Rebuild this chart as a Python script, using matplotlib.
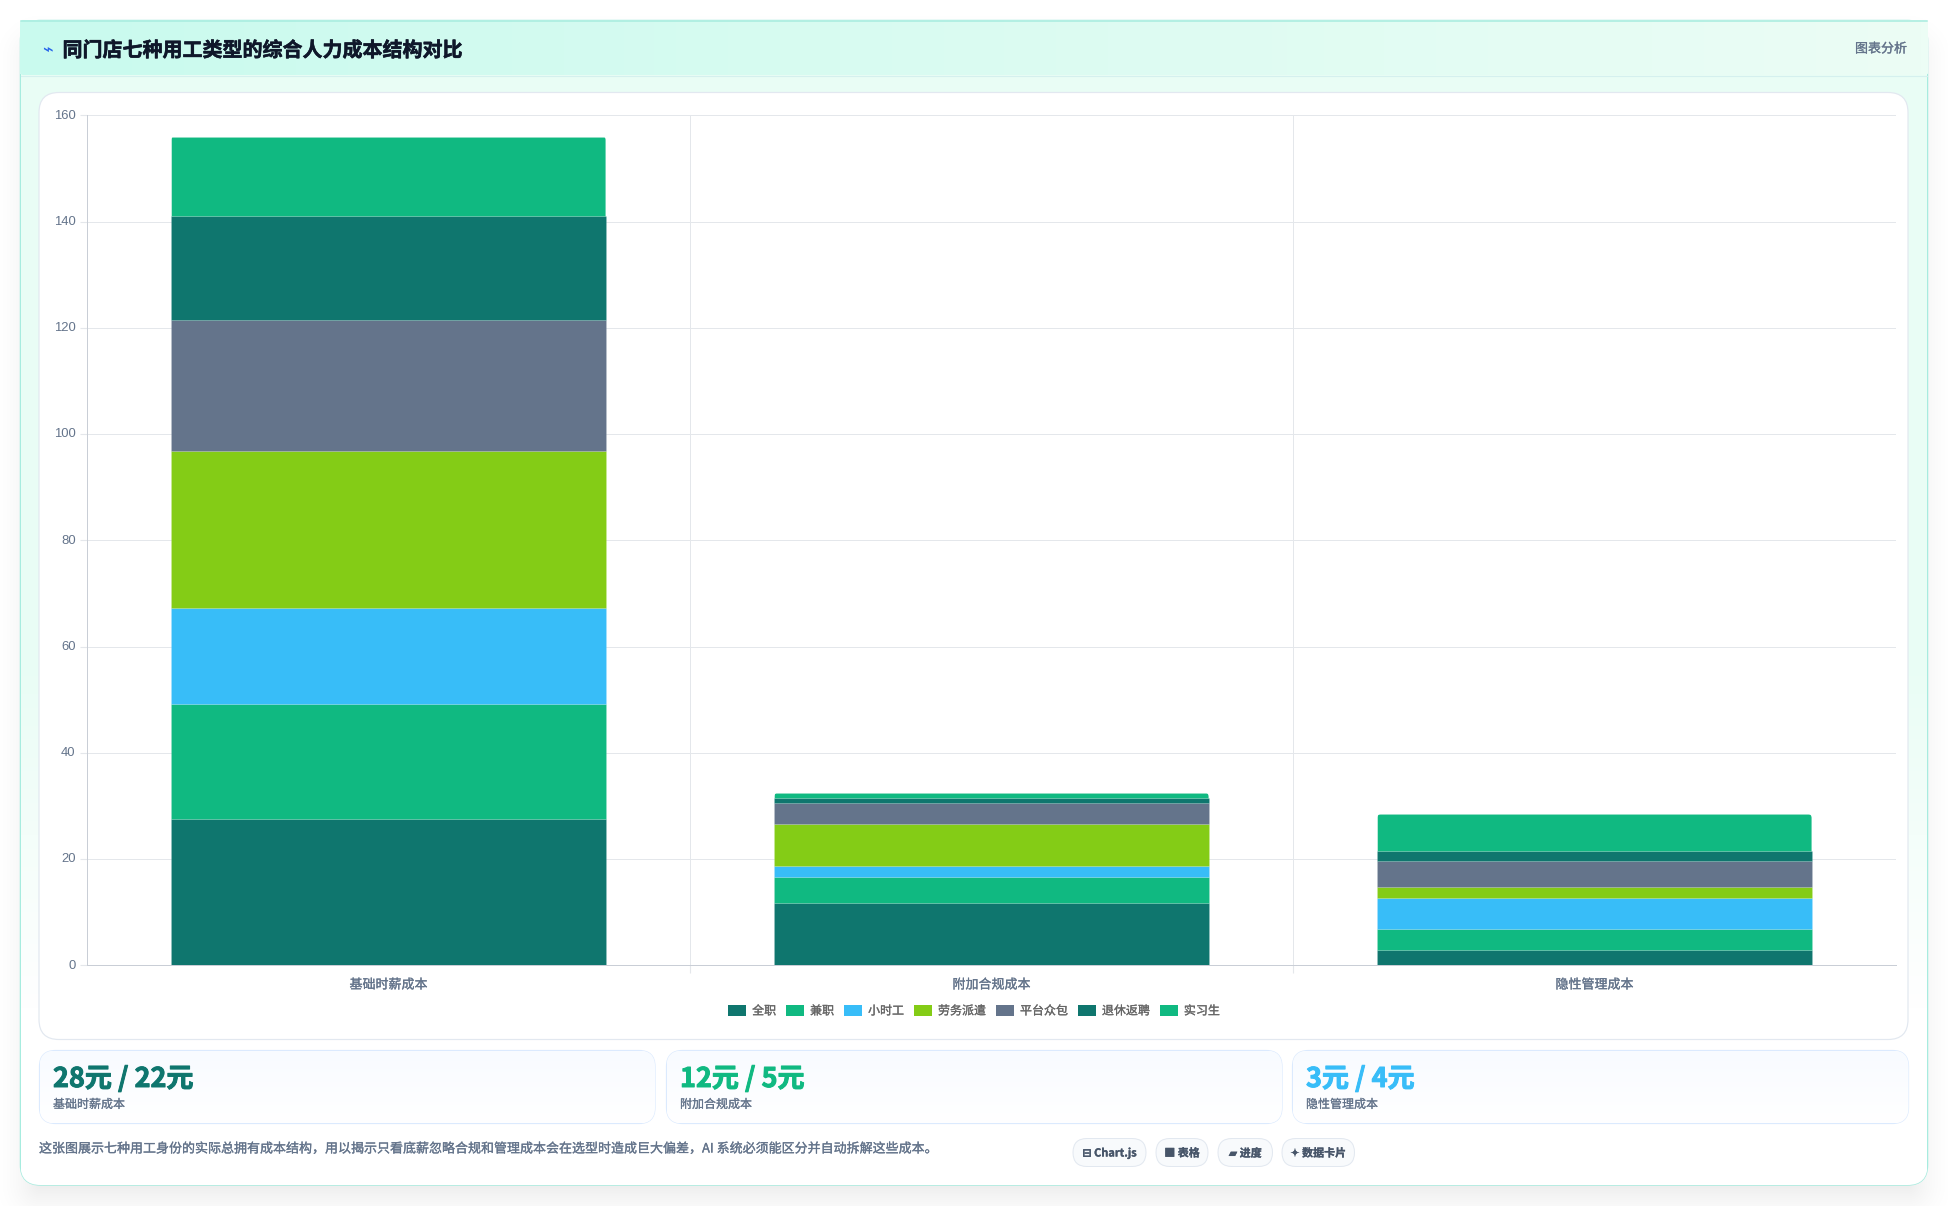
import numpy as np
import matplotlib
matplotlib.use('Agg')
import matplotlib.pyplot as plt
import matplotlib.patheffects as pe
from matplotlib.patches import FancyBboxPatch, Patch
from matplotlib.transforms import IdentityTransform, ScaledTranslation

W, H = 1948, 1206

# 三类成本，七种用工身份（元/小时）
categories = ['基础时薪成本', '附加合规成本', '隐性管理成本']
worker_types = ['全职', '兼职', '小时工', '劳务派遣', '平台众包', '退休返聘', '实习生']
fulltime = [27.6, 11.7, 2.9]
parttime = [21.6, 4.9, 4.0]
hourly = [18.0, 2.0, 5.8]
dispatch = [29.6, 8.0, 2.1]
platform = [24.6, 4.0, 4.8]
retired = [19.6, 0.8, 1.9]
intern = [15.0, 1.0, 6.9]
series = [fulltime, parttime, hourly, dispatch, platform, retired, intern]
colors = ['#0f766e', '#10b981', '#38bdf8', '#84cc16', '#64748b', '#0f766e', '#10b981']
y_ticks = [0, 20, 40, 60, 80, 100, 120, 140, 160]

stat_values = ['28元 / 22元', '12元 / 5元', '3元 / 4元']
stat_colors = ['#0f766e', '#10b981', '#38bdf8']
title = '同门店七种用工类型的综合人力成本结构对比'
note = '这张图展示七种用工身份的实际总拥有成本结构，用以揭示只看底薪忽略合规和管理成本会在选型时造成巨大偏差，AI 系统必须能区分并自动拆解这些成本。'
pills = ['⊟ Chart.js', '■ 表格', '▰ 进度', '✦ 数据卡片']

CJK = ['Noto Sans CJK SC', 'DejaVu Sans']
plt.rcParams['font.family'] = CJK


def px(v):
    # 像素转磅
    return v * 72 / 100


def thick(artist, w, color):
    # 描边加粗文字
    artist.set_path_effects([pe.withStroke(linewidth=w, foreground=color)])
    return artist


def rounded_dist(x0, y0, x1, y1, r):
    # 圆角矩形的有向距离场
    yy, xx = np.mgrid[0:H, 0:W] + 0.5
    cx, cy = (x0 + x1) / 2, (y0 + y1) / 2
    qx = np.abs(xx - cx) - (x1 - x0) / 2 + r
    qy = np.abs(yy - cy) - (y1 - y0) / 2 + r
    return np.hypot(np.maximum(qx, 0), np.maximum(qy, 0)) + np.minimum(np.maximum(qx, qy), 0) - r


def box(ax, x0, y0, x1, y1, r, fc, ec='none', lw=1, z=1):
    p = FancyBboxPatch((x0 + r, y0 + r), x1 - x0 - 2 * r, y1 - y0 - 2 * r,
                       boxstyle=f'round,pad={r},rounding_size={r}',
                       fc=fc, ec=ec, lw=lw * 0.72, zorder=z)
    ax.add_patch(p)
    return p


def hgrad(c0, c1, n=256):
    c0 = np.array(matplotlib.colors.to_rgb(c0))
    c1 = np.array(matplotlib.colors.to_rgb(c1))
    t = np.linspace(0, 1, n)[None, :, None]
    return c0 + (c1 - c0) * t


fig = plt.figure(figsize=(W / 100, H / 100), dpi=100, facecolor='white')
bg = fig.add_axes([0, 0, 1, 1])
bg.set_xlim(0, W)
bg.set_ylim(H, 0)
bg.axis('off')

# 外层卡片的阴影
d = rounded_dist(20, 38, 1928, 1205, 20)
shadow = np.clip(0.5 - d / 70, 0, 1) ** 2 * 0.12
rgba = np.zeros((H, W, 4))
rgba[..., 3] = shadow
bg.imshow(rgba, extent=(0, W, H, 0), zorder=0, aspect='auto')
bg.set_xlim(0, W)
bg.set_ylim(H, 0)

# 外层卡片，背景从薄荷绿渐变到白色
outer = box(bg, 20.5, 20.5, 1927.5, 1185, 20, 'white', '#a7ecdf', 1.5, z=1)
vg = np.linspace(0, 1, 256)[:, None, None]
top_c = np.array(matplotlib.colors.to_rgb('#e9fdf5'))
body = top_c + (np.ones(3) - top_c) * np.clip((vg - 0.55) / 0.3, 0, 1)
im = bg.imshow(body, extent=(21, 1927, 1185, 21), zorder=1.1, aspect='auto')
im.set_clip_path(outer)

# 标题栏
head = box(bg, 20, 20, 1928, 75, 3, 'white', 'none', z=1.2)
im = bg.imshow(hgrad('#c9faee', '#ecfdf5'), extent=(20, 1928, 75, 20), zorder=1.3, aspect='auto')
im.set_clip_path(head)
bg.plot([21, 1927], [20.8, 20.8], color='#a7ecdf', lw=1.1, zorder=1.4)
bg.plot([21, 1927], [75.5, 75.5], color='#d5f0ee', lw=0.8, zorder=1.4)
bg.text(47, 51, '⌁', fontsize=px(18), color='#2563eb', ha='center', va='center',
        family=['DejaVu Sans'], zorder=3)
thick(bg.text(62.5, 50, title, fontsize=px(20), fontweight='bold', color='#0f172a', va='center', zorder=3),
      0.4, '#0f172a')
thick(bg.text(1907, 49, '图表分析', fontsize=px(13), fontweight='medium', color='#64748b',
              ha='right', va='center', zorder=3), 0.2, '#64748b')

# 图表卡片
box(bg, 39, 92.5, 1908, 1039.5, 20, 'white', '#e2e8f0', 1.2, z=2)

# 三张数据卡片
cards = [(39.5, 655), (666.5, 1282), (1292.5, 1908.5)]
for (x0, x1), val, col, cat in zip(cards, stat_values, stat_colors, categories):
    c = box(bg, x0, 1050.5, x1, 1123.5, 16, 'white', '#dbeafe', 1.2, z=2)
    im = bg.imshow(hgrad('#f8fbff', '#ffffff').transpose(1, 0, 2), extent=(x0, x1, 1123, 1051),
                   zorder=2.1, aspect='auto')
    im.set_clip_path(c)
    thick(bg.text(x0 + 13.5, 1079, val, fontsize=px(27), fontweight='bold', color=col, va='center', zorder=3),
          0.7, col)
    thick(bg.text(x0 + 13.5, 1104.5, cat, fontsize=px(12), fontweight='medium', color='#64748b', va='center', zorder=3),
          0.15, '#64748b')

thick(bg.text(39, 1149, note, fontsize=px(13), fontweight='medium', color='#64748b', va='center', zorder=3),
      0.2, '#64748b')

# 底部标签
pill_x = [(1073, 1146), (1156, 1208), (1218, 1272.5), (1282, 1354.5)]
for (x0, x1), s in zip(pill_x, pills):
    box(bg, x0, 1138.5, x1, 1166.5, 14, '#f8fafc', '#e2e8f0', 1, z=2)
    thick(bg.text((x0 + x1) / 2, 1153.5, s, fontsize=px(11), fontweight='bold', color='#475569',
                  ha='center', va='center', zorder=3), 0.2, '#475569')

# 堆叠柱状图
L, R, T, B = 87.0, 1896, 115.3, 965.3
ax = fig.add_axes([L / W, 1 - B / H, (R - L) / W, (B - T) / H])
ax.patch.set_alpha(0)
x = np.arange(len(categories))
bottom = np.zeros(len(categories))
containers = []
for vals, col in zip(series, colors):
    bars = ax.bar(x, vals, width=0.72, bottom=bottom, color=col, edgecolor=(1, 1, 1, 0.12),
                  linewidth=0.5, zorder=3)
    containers.append(bars)
    bottom += np.array(vals)

ax.set_xlim(-0.5, 2.5)
ax.set_ylim(0, 160)
ax.set_yticks(y_ticks)
ax.set_xticks(x)
ax.set_xticklabels(categories, fontsize=px(13), fontweight='medium', color='#64748b')
ax.tick_params(axis='x', length=0, pad=9.5)
ax.tick_params(axis='y', length=7.5 * 0.72, width=0.8, color='#e4e7eb', pad=2.8, labelsize=px(13),
               labelcolor='#64748b')
for lab in ax.get_xticklabels():
    thick(lab, 0.2, '#64748b')
up = ScaledTranslation(0, 1.2 / 100, fig.dpi_scale_trans)
for lab in ax.get_yticklabels():
    lab.set_fontfamily('Liberation Sans')
    lab.set_transform(lab.get_transform() + up)

# 类别之间的竖向网格线
ax.set_xticks([0.5, 1.5], minor=True)
ax.tick_params(axis='x', which='minor', length=7.5 * 0.72, width=0.8, color='#e4e7eb')
ax.grid(axis='x', which='minor', color='#e4e7eb', lw=0.72, zorder=0)
ax.grid(axis='y', which='major', color='#e4e7eb', lw=0.72, zorder=0)
ax.set_axisbelow(True)
for s in ['top', 'right']:
    ax.spines[s].set_visible(False)
for s in ['left', 'bottom']:
    ax.spines[s].set_color('#c9ced6')
    ax.spines[s].set_linewidth(0.72)

# 每根柱子最上面一段的上方圆角
fig.canvas.draw()
for bar in containers[-1]:
    e = bar.get_window_extent()
    clip = FancyBboxPatch((e.x0 + 4, e.y0 - 10), e.width - 8, e.height + 6.5,
                          boxstyle='round,pad=4,rounding_size=4', transform=IdentityTransform())
    bar.set_clip_path(clip)

handles = [Patch(facecolor=c, edgecolor='none', label=n) for c, n in zip(colors, worker_types)]
leg = fig.legend(handles=handles, ncols=7, loc='center', bbox_to_anchor=(974 / W, 1 - 1011 / H),
                 frameon=False, fontsize=px(12), handlelength=1.5, handleheight=1.0,
                 handletextpad=0.5, columnspacing=0.83, labelcolor='#666666')
for t in leg.get_texts():
    thick(t, 0.2, '#666666')

fig.savefig('out.png', dpi=100)
